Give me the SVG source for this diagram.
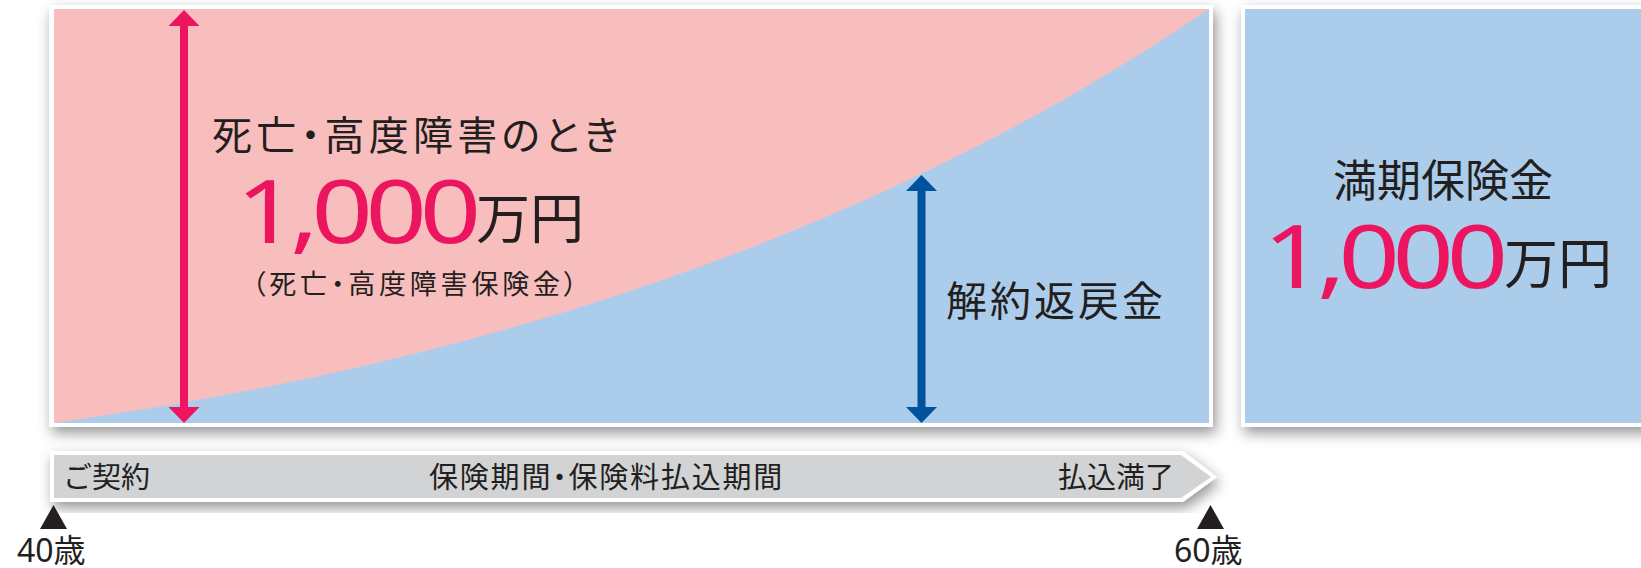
<svg xmlns="http://www.w3.org/2000/svg" width="1641" height="568" viewBox="0 0 1641 568">
<defs>
<filter id="sh" x="-5%" y="-20%" width="110%" height="140%">
<feDropShadow dx="3" dy="6" stdDeviation="7" flood-color="#000" flood-opacity="0.42"/>
</filter>
<style>
.jp{font-family:"Noto Sans CJK JP","Noto Sans",sans-serif;fill:#231f20}
.pa{font-feature-settings:"palt"}
.num{font-family:"Noto Sans","Noto Sans CJK JP",sans-serif;fill:#ec1660}
.age{font-family:"Noto Sans","Noto Sans CJK JP",sans-serif;fill:#231f20;font-size:32px}
.tl{font-size:29px}
</style>
</defs>
<rect width="1641" height="568" fill="#ffffff"/>

<g id="main-panel">
<rect x="49" y="5" width="1164" height="422" fill="#ffffff" filter="url(#sh)"/>
<rect x="54" y="9" width="1155" height="414" fill="#f8bebe"/>
<path d="M54,423 C454,367 859,247 1209,9 L1209,423 Z" fill="#abcdeb"/>
</g>

<g id="maturity-panel">
<rect x="1241" y="5" width="420" height="422" fill="#ffffff" filter="url(#sh)"/>
<rect x="1245" y="9" width="410" height="414" fill="#abcdeb"/>
<text class="jp" x="1333" y="197" font-size="44">満期保険金</text>
<text class="num" transform="translate(1263,288) scale(1.22,1)" font-size="88" letter-spacing="-6">1,000</text>
<text class="jp" x="1504" y="284" font-size="54">万円</text>
</g>

<g id="death-label">
<text class="jp pa" x="212" y="150" font-size="40" letter-spacing="4.2">死亡・高度障害のとき</text>
<text class="num" transform="translate(236,243) scale(1.22,1)" font-size="88" letter-spacing="-6">1,000</text>
<text class="jp" x="476" y="239" font-size="54">万円</text>
<text class="jp pa" x="252" y="294" font-size="27" letter-spacing="3.8">（死亡・高度障害保険金）</text>
</g>

<g id="surrender-label">
<text class="jp" x="946" y="316" font-size="41" letter-spacing="3">解約返戻金</text>
</g>

<g id="connectors">
<g fill="#ec1660">
<rect x="180" y="24" width="8" height="385"/>
<polygon points="184,10 199.5,26 168.5,26"/>
<polygon points="184,423 199.5,407 168.5,407"/>
</g>
<g fill="#00519e">
<rect x="917.5" y="189" width="8" height="220"/>
<polygon points="921.5,175 937,191 906,191"/>
<polygon points="921.5,423 937,407 906,407"/>
</g>
</g>

<g id="timeline">
<polygon points="50,451 1183,451 1217,477 1183,502 50,502" fill="#ffffff" filter="url(#sh)"/>
<polygon points="54,455 1181,455 1211,477 1181,498 54,498" fill="#d1d3d4"/>
<text class="jp tl" x="63" y="488">ご契約</text>
<text class="jp tl pa" x="429" y="488" letter-spacing="1.8">保険期間・保険料払込期間</text>
<text class="jp tl" x="1058" y="488" font-size="30">払込満了</text>
</g>

<g id="age-40">
<polygon points="53.5,505 67,529 40,529" fill="#231f20"/>
<text class="age" x="17" y="562">40歳</text>
</g>
<g id="age-60">
<polygon points="1210.5,505 1224,529 1197,529" fill="#231f20"/>
<text class="age" x="1174" y="562">60歳</text>
</g>
</svg>
